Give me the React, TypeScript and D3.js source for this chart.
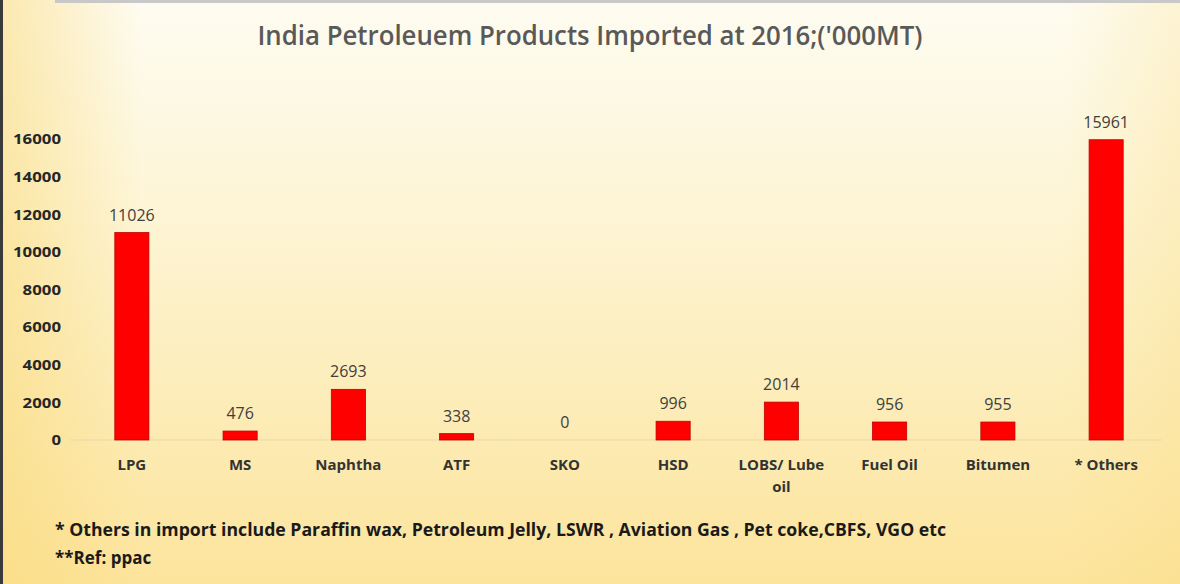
import React from "react";
import * as d3 from "d3";

const categories = ["LPG", "MS", "Naphtha", "ATF", "SKO", "HSD", "LOBS/ Lube oil", "Fuel Oil", "Bitumen", "* Others"];
const categoryLines = [["LPG"], ["MS"], ["Naphtha"], ["ATF"], ["SKO"], ["HSD"], ["LOBS/ Lube", "oil"], ["Fuel Oil"], ["Bitumen"], ["* Others"]];
const values = [11026, 476, 2693, 338, 0, 996, 2014, 956, 955, 15961];
const yTicks = [0, 2000, 4000, 6000, 8000, 10000, 12000, 14000, 16000];
const title = "India Petroleuem Products Imported at 2016;('000MT)";
const footnotes = [
  "* Others in import include Paraffin wax, Petroleum Jelly, LSWR , Aviation Gas , Pet coke,CBFS, VGO etc",
  "**Ref: ppac",
];

const W = 1180;
const H = 584;

export default function App() {
  const x = d3.scaleBand<string>().domain(categories).range([78, 1160]).paddingInner(0.685).paddingOuter(0.34);
  const y = d3.scaleLinear().domain([0, 16000]).range([440, 139]);
  const font = "'Open Sans', 'Liberation Sans', sans-serif";
  return (
    <svg width={W} height={H} style={{ position: "absolute", left: 0, top: 0 }}>
      <defs>
        <linearGradient id="bg" x1="0" y1="0" x2="0" y2="1">
          <stop offset="0" stopColor="#fefcf1" />
          <stop offset="0.35" stopColor="#fdf5d6" />
          <stop offset="1" stopColor="#fce49c" />
        </linearGradient>
        <linearGradient id="bgl" x1="0" y1="0" x2="1" y2="0">
          <stop offset="0" stopColor="#f9d97a" stopOpacity="0.55" />
          <stop offset="0.12" stopColor="#f9d97a" stopOpacity="0" />
          <stop offset="0.9" stopColor="#f9d97a" stopOpacity="0" />
          <stop offset="1" stopColor="#f9d97a" stopOpacity="0.25" />
        </linearGradient>
      </defs>
      <rect x={0} y={0} width={W} height={H} fill="url(#bg)" />
      <rect x={0} y={0} width={W} height={H} fill="url(#bgl)" />
      <rect x={0} y={0} width={3} height={H} fill="#3a3a3a" />
      <rect x={55} y={0} width={W - 55} height={3} fill="#c8c8c8" />

      <text x={590} y={45} textAnchor="middle" fontFamily={font} fontWeight={600} fontSize={27} fill="#595959" textLength={665} lengthAdjust="spacingAndGlyphs">
        {title}
      </text>

      {yTicks.map((t) => (
        <text key={t} x={61} y={y(t)} dy="0.35em" textAnchor="end" fontFamily={font} fontWeight={700} fontSize={15} fill="#262626" textLength={String(t).length * 9.6} lengthAdjust="spacingAndGlyphs">
          {t}
        </text>
      ))}

      <line x1={70} x2={1162} y1={y(0)} y2={y(0)} stroke="#e8d9a8" strokeWidth={1} />

      {categories.map((c, i) => (
        <g key={c}>
          {values[i] > 0 && (
            <rect x={x(c)} y={y(values[i])} width={x.bandwidth()} height={y(0) - y(values[i])} fill="#ff0000" stroke="#c00000" strokeWidth={0.8} />
          )}
          <text x={(x(c) as number) + x.bandwidth() / 2} y={y(values[i]) - 12} textAnchor="middle" fontFamily={font} fontWeight={500} fontSize={16} fill="#404040">
            {values[i]}
          </text>
          {categoryLines[i].map((ln, j) => (
            <text key={j} x={(x(c) as number) + x.bandwidth() / 2} y={470 + j * 22} textAnchor="middle" fontFamily={font} fontWeight={700} fontSize={15} fill="#333333">
              {ln}
            </text>
          ))}
        </g>
      ))}

      <text x={55} y={536} fontFamily={font} fontWeight={700} fontSize={17} fill="#1a1a1a" textLength={891} lengthAdjust="spacingAndGlyphs">
        {footnotes[0]}
      </text>
      <text x={55} y={564} fontFamily={font} fontWeight={700} fontSize={17} fill="#1a1a1a">
        {footnotes[1]}
      </text>
    </svg>
  );
}
